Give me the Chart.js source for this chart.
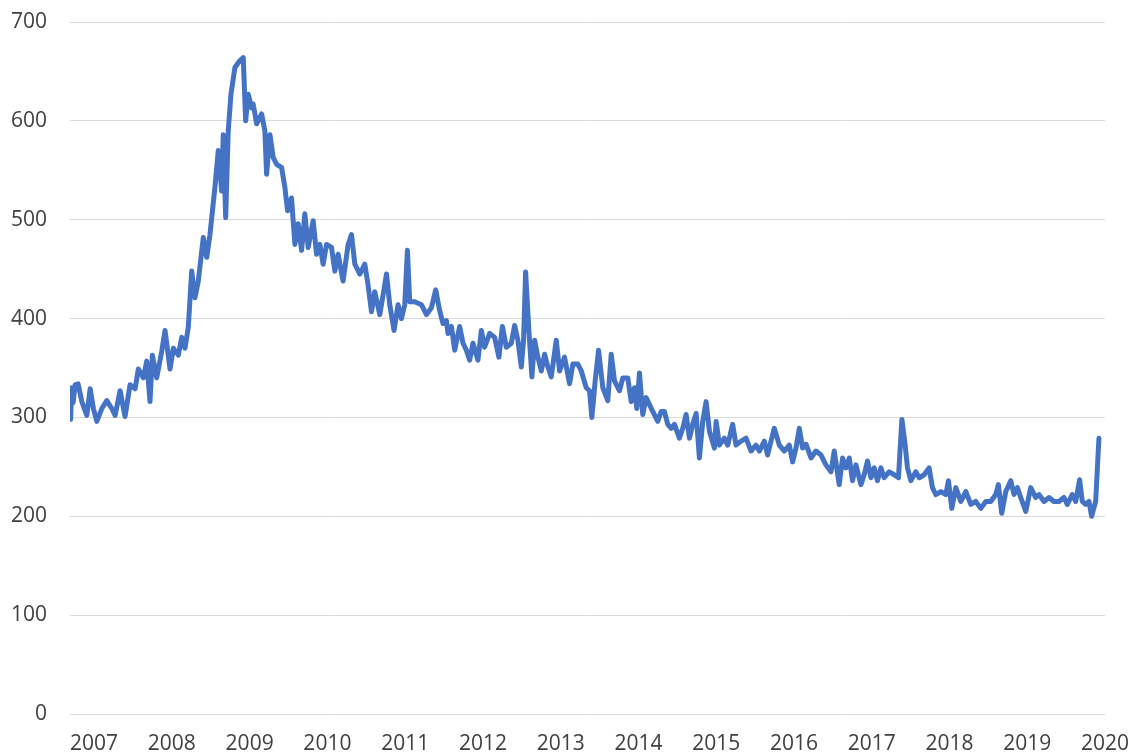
<!DOCTYPE html>
<html>
<head>
<meta charset="utf-8">
<script src="https://cdn.jsdelivr.net/npm/chart.js@4/dist/chart.umd.min.js"></script>
<style>
  html,body{margin:0;padding:0;background:#fff;}
  #contenedor{width:1138px;height:754px;position:relative;}
</style>
</head>
<body>
<div id="contenedor"><canvas id="grafico"></canvas></div>
<script>
// fecha (año decimal) de cada lectura
const fechas=[
2006.698,2006.711,2006.730,2006.756,2006.794,2006.842,2006.906,2006.949,2006.991,2007.035,
2007.099,2007.163,2007.227,2007.270,2007.334,2007.398,2007.462,2007.527,2007.569,2007.633,
2007.677,2007.719,2007.749,2007.805,2007.870,2007.912,2007.976,2008.019,2008.083,2008.127,
2008.169,2008.211,2008.255,2008.297,2008.340,2008.404,2008.448,2008.490,2008.554,2008.597,
2008.640,2008.661,2008.692,2008.725,2008.760,2008.811,2008.875,2008.918,2008.949,2008.982,
2009.026,2009.046,2009.090,2009.154,2009.196,2009.218,2009.261,2009.303,2009.347,2009.411,
2009.453,2009.488,2009.539,2009.582,2009.624,2009.668,2009.710,2009.753,2009.817,2009.861,
2009.903,2009.945,2009.989,2010.053,2010.096,2010.138,2010.202,2010.267,2010.310,2010.353,
2010.417,2010.481,2010.523,2010.567,2010.609,2010.674,2010.716,2010.760,2010.802,2010.857,
2010.909,2010.952,2010.995,2011.029,2011.059,2011.123,2011.209,2011.274,2011.338,2011.393,
2011.444,2011.487,2011.530,2011.551,2011.595,2011.637,2011.701,2011.744,2011.787,2011.830,
2011.872,2011.936,2011.980,2012.022,2012.087,2012.151,2012.206,2012.250,2012.301,2012.365,
2012.408,2012.450,2012.494,2012.523,2012.549,2012.591,2012.630,2012.665,2012.707,2012.751,
2012.793,2012.836,2012.879,2012.943,2012.986,2013.050,2013.114,2013.157,2013.221,2013.265,
2013.329,2013.371,2013.401,2013.444,2013.487,2013.542,2013.606,2013.650,2013.692,2013.757,
2013.799,2013.863,2013.907,2013.949,2013.979,2014.013,2014.056,2014.099,2014.142,2014.184,
2014.248,2014.292,2014.334,2014.377,2014.421,2014.463,2014.527,2014.570,2014.613,2014.656,
2014.698,2014.742,2014.784,2014.827,2014.870,2014.913,2014.977,2014.999,2015.041,2015.105,
2015.148,2015.212,2015.255,2015.320,2015.384,2015.448,2015.512,2015.555,2015.619,2015.661,
2015.705,2015.747,2015.812,2015.876,2015.940,2015.983,2016.026,2016.069,2016.111,2016.155,
2016.219,2016.283,2016.347,2016.411,2016.476,2016.518,2016.582,2016.625,2016.668,2016.711,
2016.753,2016.797,2016.861,2016.903,2016.946,2016.990,2017.032,2017.074,2017.118,2017.160,
2017.225,2017.289,2017.344,2017.388,2017.430,2017.460,2017.503,2017.567,2017.610,2017.674,
2017.738,2017.781,2017.825,2017.889,2017.953,2017.987,2018.030,2018.081,2018.146,2018.210,
2018.274,2018.338,2018.403,2018.467,2018.531,2018.595,2018.629,2018.672,2018.724,2018.788,
2018.830,2018.873,2018.916,2018.981,2019.045,2019.109,2019.151,2019.216,2019.280,2019.344,
2019.408,2019.472,2019.515,2019.579,2019.623,2019.674,2019.708,2019.751,2019.794,2019.828,
2019.880,2019.922
]
// valores
const valores=[
298,330,315,333,334,316,302,329,309,296,
309,317,309,302,327,301,333,329,349,340,
357,316,363,340,367,388,349,370,363,381,
370,391,448,421,438,482,462,485,533,570,
529,586,502,590,627,654,661,664,600,627,
613,617,597,607,590,546,586,563,556,553,
533,509,522,475,496,469,506,472,499,465,
475,455,475,472,448,465,438,475,485,455,
445,455,434,407,427,404,424,445,414,388,
414,400,414,469,417,417,414,404,411,429,
408,395,398,385,392,368,392,375,368,358,
375,358,388,371,385,381,361,392,371,375,
393,378,351,378,447,388,341,378,361,347,
364,351,341,378,347,361,334,354,354,347,
330,327,300,337,368,330,317,364,337,327,
340,340,316,330,309,345,303,320,313,306,
296,306,306,293,289,293,279,289,303,279,
293,304,259,296,316,286,269,296,272,279,
272,293,272,276,279,266,272,266,276,262,
276,289,272,266,272,255,269,289,269,273,
259,266,262,252,245,266,232,259,249,259,
236,252,232,242,256,239,249,236,249,239,
245,242,239,298,272,249,236,245,239,242,
249,229,222,225,222,236,208,229,215,225,
212,215,208,215,215,222,232,203,225,236,
222,229,219,205,229,219,222,215,219,215,
215,219,212,222,215,237,215,212,215,200,
215,279
]
const etiquetasAnios=[2007,2008,2009,2010,2011,2012,2013,2014,2015,2016,2017,2018,2019,2020]
const marcasEjeY=[0,100,200,300,400,500,600,700]

const puntos=fechas.map((f,i)=>({x:f,y:valores[i]}))
const fuente={family:'"Open Sans", "Liberation Sans", sans-serif',size:21}

const sinRelleno=(eje)=>{
    eje.paddingTop=0
    eje.paddingBottom=0
    eje.paddingLeft=0
    eje.paddingRight=0
}

var ctx=document.getElementById('grafico').getContext('2d')
var chart=new Chart(ctx,{
    type:'line',
    data:{
        datasets:[{
            data:puntos,
            borderColor:'#4472C4',
            backgroundColor:'#4472C4',
            borderWidth:5,
            borderJoinStyle:'round',
            borderCapStyle:'round',
            pointRadius:0,
            tension:0,
            fill:false
        }]
    },
    options:{
        responsive:true,
        maintainAspectRatio:false,
        animation:false,
        layout:{padding:{top:22,right:33,bottom:0,left:0}},
        plugins:{legend:{display:false},tooltip:{enabled:false}},
        scales:{
            x:{
                type:'linear',
                min:2006.69,
                max:2020,
                afterBuildTicks:(eje)=>{eje.ticks=etiquetasAnios.map(v=>({value:v}))},
                afterFit:(eje)=>{eje.height=40;sinRelleno(eje)},
                grid:{display:false,drawTicks:false},
                border:{display:false},
                ticks:{
                    autoSkip:false,
                    maxRotation:0,
                    padding:17,
                    color:'#404040',
                    font:fuente,
                    callback:(v)=>String(v)
                }
            },
            y:{
                min:0,
                max:700,
                afterBuildTicks:(eje)=>{eje.ticks=marcasEjeY.map(v=>({value:v}))},
                afterFit:(eje)=>{eje.width=70;sinRelleno(eje)},
                grid:{color:'#d9d9d9',lineWidth:1,drawTicks:false},
                border:{display:false},
                ticks:{
                    padding:23,
                    color:'#404040',
                    font:fuente,
                    callback:(v)=>String(v)
                }
            }
        }
    }
})
</script>
</body>
</html>
